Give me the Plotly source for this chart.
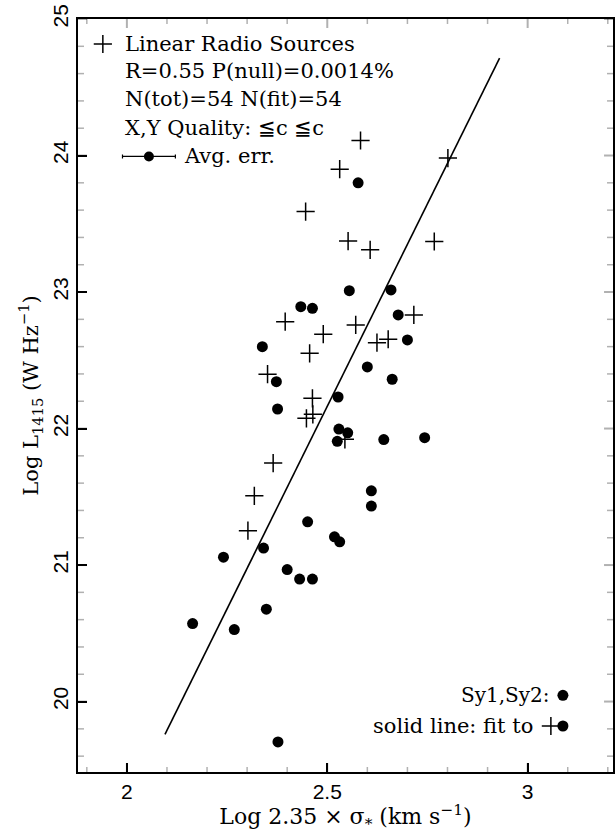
import plotly.graph_objects as go

# Linear radio sources (+)
lin_x = [2.583, 2.531, 2.446, 2.552, 2.607, 2.767, 2.801, 2.716, 2.395, 2.571, 2.490,
         2.624, 2.652, 2.456, 2.351, 2.463, 2.448, 2.464, 2.544, 2.365, 2.318, 2.302]
lin_y = [24.110, 23.900, 23.589, 23.373, 23.309, 23.370, 23.981, 22.832, 22.783, 22.759, 22.691,
         22.629, 22.654, 22.551, 22.398, 22.221, 22.075, 22.104, 21.921, 21.747, 21.507, 21.252]

# Sy1, Sy2 (filled dots)
sy_x = [2.577, 2.555, 2.659, 2.434, 2.463, 2.677, 2.700, 2.338, 2.600, 2.662, 2.373,
        2.527, 2.376, 2.529, 2.551, 2.525, 2.641, 2.743, 2.610, 2.610, 2.451, 2.518,
        2.531, 2.341, 2.241, 2.400, 2.431, 2.463, 2.348, 2.164, 2.268, 2.377]
sy_y = [23.800, 23.010, 23.015, 22.893, 22.881, 22.832, 22.649, 22.600, 22.451, 22.361, 22.343,
        22.231, 22.143, 21.996, 21.969, 21.906, 21.919, 21.933, 21.544, 21.432, 21.317, 21.207,
        21.170, 21.124, 21.058, 20.967, 20.897, 20.897, 20.677, 20.571, 20.527, 19.704]

# Fit line end points
fit_x = [2.095, 2.930]
fit_y = [19.760, 24.714]

# Average error (legend key)
avg_err_x = 0.066

x_range = [1.878, 3.213]
y_range = [19.484, 25.0]

x_ticks = [2, 2.5, 3]
y_ticks = [20, 21, 22, 23, 24, 25]
x_minor = [round(1.9 + 0.1 * i, 2) for i in range(14)]
y_minor = [round(19.6 + 0.2 * i, 2) for i in range(28)]
x_minor = [v for v in x_minor if v not in x_ticks]
y_minor = [v for v in y_minor if abs(v - round(v)) > 1e-6]

SERIF = "DejaVu Serif"
SANS = "Liberation Sans"

fig = go.Figure()

fig.add_trace(go.Scatter(x=fit_x, y=fit_y, mode="lines",
                         line=dict(color="black", width=1.6), hoverinfo="skip"))
cross = dict(symbol="cross-thin-open", size=13, color="black",
             line=dict(color="black", width=1.5))
dot = dict(symbol="circle", size=11, color="black", line=dict(width=0))
fig.add_trace(go.Scatter(x=lin_x, y=lin_y, mode="markers", marker=cross))
fig.add_trace(go.Scatter(x=sy_x, y=sy_y, mode="markers", marker=dot))

# legend keys
fig.add_trace(go.Scatter(x=[1.940], y=[24.817], mode="markers", marker=cross))
fig.add_trace(go.Scatter(x=[2.055], y=[23.993], mode="markers",
                         error_x=dict(type="constant", value=avg_err_x, color="black",
                                      thickness=1.2, width=2),
                         marker=dict(symbol="circle", size=10, color="black")))
fig.add_trace(go.Scatter(x=[3.088, 3.088], y=[20.046, 19.821], mode="markers", marker=dot))
fig.add_trace(go.Scatter(x=[3.058], y=[19.821], mode="markers", marker=cross))

ann_font = dict(family=SERIF, size=21, color="black")
top_lines = [
    ("Linear Radio Sources", 0.9668),
    ("R=0.55 P(null)=0.0014%", 0.9303),
    ("N(tot)=54 N(fit)=54", 0.8937),
    ("X,Y Quality: ≦c ≦c", 0.8559),
]
for txt, yy in top_lines:
    fig.add_annotation(x=0.0842, y=yy, xref="paper", yref="paper", text=txt,
                       showarrow=False, xanchor="left", yanchor="middle", font=ann_font)
fig.add_annotation(x=0.1945, y=0.8174, xref="paper", yref="paper", text="Avg. err.",
                   showarrow=False, xanchor="left", yanchor="middle", font=ann_font)
fig.add_annotation(x=0.8868, y=0.1019, xref="paper", yref="paper", text="Sy1,Sy2:",
                   showarrow=False, xanchor="right", yanchor="middle",
                   font=dict(family=SERIF, size=20, color="black"))
fig.add_annotation(x=0.8534, y=0.0611, xref="paper", yref="paper", text="solid line: fit to",
                   showarrow=False, xanchor="right", yanchor="middle", font=ann_font)

# inward tick marks on all four sides, placed at the tick values
PLOT_W, PLOT_H = 537.0, 753.0
tick_line = dict(color="black")
for vals, ln, w in ((x_ticks, 9, 2), (x_minor, 5, 1.5)):
    f = ln / PLOT_H
    for v in vals:
        fig.add_shape(type="line", xref="x", yref="y domain", x0=v, x1=v, y0=0, y1=f,
                      line=dict(color="black", width=w))
        fig.add_shape(type="line", xref="x", yref="y domain", x0=v, x1=v, y0=1, y1=1 - f,
                      line=dict(color="black", width=w))
for vals, ln, w in ((y_ticks, 9, 2), (y_minor, 6, 1.5)):
    f = ln / PLOT_W
    for v in vals:
        fig.add_shape(type="line", xref="x domain", yref="y", x0=0, x1=f, y0=v, y1=v,
                      line=dict(color="black", width=w))
        fig.add_shape(type="line", xref="x domain", yref="y", x0=1, x1=1 - f, y0=v, y1=v,
                      line=dict(color="black", width=w))

fig.update_xaxes(range=x_range, showline=True, linecolor="black", linewidth=2,
                 mirror=True, ticks="inside", ticklen=9, tickwidth=2, tickcolor="black",
                 tickvals=x_ticks, showgrid=False, zeroline=False,
                 tickfont=dict(family=SANS, size=21, color="black"),
                 title=dict(text="Log 2.35 × σ<sub>*</sub> (km s<sup>−1</sup>)",
                            font=dict(family=SERIF, size=22, color="black"), standoff=4))
fig.update_yaxes(range=y_range, showline=True, linecolor="black", linewidth=2,
                 mirror=True, ticks="inside", ticklen=9, tickwidth=2, tickcolor="black",
                 tickvals=y_ticks, showgrid=False, zeroline=False, tickangle=-90,
                 tickfont=dict(family=SANS, size=21, color="black"),
                 title=dict(text="Log L<sub>1415</sub> (W Hz<sup>−1</sup>)",
                            font=dict(family=SERIF, size=21, color="black"), standoff=4))

fig.update_layout(
    template="simple_white",
    width=616, height=833,
    margin=dict(l=78, r=1, t=19, b=61),
    plot_bgcolor="white", paper_bgcolor="white",
    showlegend=False,
)

fig.write_html("out.html")
